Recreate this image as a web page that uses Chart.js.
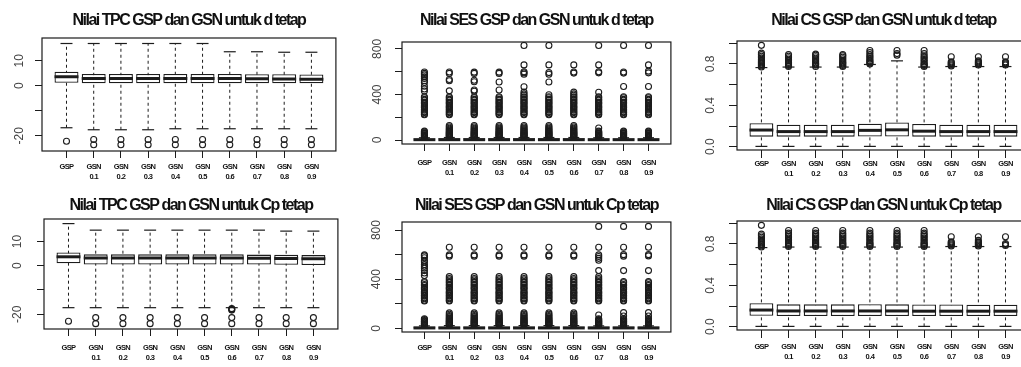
<!DOCTYPE html>
<html>
<head>
<meta charset="utf-8">
<script src="https://cdn.jsdelivr.net/npm/chart.js@4.4.1/dist/chart.umd.min.js"></script>
<style>
html, body { margin: 0; padding: 0; background: #fff; }
body { width: 1021px; height: 367px; overflow: hidden; position: relative; }
.panel { position: absolute; }
</style>
</head>
<body>
<script>
// category tick labels (two lines under each box)
var xTickLabels = [['GSP'], ['GSN', '0.1'], ['GSN', '0.2'], ['GSN', '0.3'], ['GSN', '0.4'],
                   ['GSN', '0.5'], ['GSN', '0.6'], ['GSN', '0.7'], ['GSN', '0.8'], ['GSN', '0.9']];

// y ticks
var tpcTicks = [-20, -10, 0, 10];
var tpcTickLabels = ['-20', '', '0', '10'];
var sesTicks = [0, 200, 400, 600, 800];
var sesTickLabels = ['0', '', '400', '', '800'];
var csTicks = [0, 0.2, 0.4, 0.6, 0.8, 1.0];
var csTickLabels = ['0.0', '', '0.4', '', '0.8', ''];

// TPC, d tetap
var tpcD_q1  = [1.2, 1.0, 1.0, 1.0, 1.0, 1.0, 1.0, 1.0, 1.0, 1.0];
var tpcD_med = [3.6, 2.9, 2.9, 2.9, 2.9, 2.9, 2.9, 2.8, 2.7, 2.6];
var tpcD_q3  = [5.6, 4.7, 4.7, 4.7, 4.7, 4.7, 4.7, 4.6, 4.6, 4.5];
var tpcD_lo  = [-16.8, -17.6, -17.6, -17.6, -17.2, -17.2, -17.2, -17.2, -17.2, -17.2];
var tpcD_hi  = [16.9, 16.9, 16.9, 16.9, 16.9, 16.9, 13.6, 13.6, 13.4, 13.4];
var tpcD_out = [[-22.2], [-21.5, -23.6], [-21.5, -23.6], [-21.5, -23.6], [-21.5, -23.6],
                [-21.5, -23.6], [-21.5, -23.6], [-21.5, -23.6], [-21.5, -23.6], [-21.5, -23.6]];

// TPC, Cp tetap
var tpcC_q1  = [1.0, 0.5, 0.5, 0.5, 0.5, 0.5, 0.5, 0.5, 0.4, 0.3];
var tpcC_med = [3.7, 3.2, 3.2, 3.2, 3.2, 3.2, 3.2, 3.1, 3.0, 2.9];
var tpcC_q3  = [5.5, 4.7, 4.7, 4.7, 4.7, 4.7, 4.7, 4.6, 4.5, 4.4];
var tpcC_lo  = [-17.3, -17.3, -17.3, -17.3, -17.3, -17.3, -17.3, -17.3, -17.3, -17.3];
var tpcC_hi  = [17.4, 14.7, 14.7, 14.7, 14.7, 14.7, 14.7, 14.7, 14.3, 14.3];
var tpcC_out = [[-22.9], [-21.4, -23.9], [-21.4, -23.9], [-21.4, -23.9], [-21.4, -23.9],
                [-21.4, -23.9], [-21.4, -23.9, -17.7, -18.0, -18.3], [-21.4, -23.9], [-21.4, -23.9], [-21.4, -23.9]];

// SES outlier groups (shared by several boxes)
var sesLowA = [24, 30, 35, 41, 46, 53, 58, 64, 71, 78];
var sesLowB = [86, 95, 104, 114, 126];
var sesMidA = [222, 229, 241, 248, 262, 270, 284, 291, 300, 317, 326, 334, 349, 357, 371, 380];
var sesMidB = [393, 405, 421];

// SES, d tetap
var sesD_q1  = [0, 0, 0, 0, 0, 0, 0, 0, 0, 0];
var sesD_med = [3, 3, 3, 3, 3, 3, 3, 3, 3, 3];
var sesD_q3  = [14, 15, 15, 15, 15, 15, 15, 14, 14, 14];
var sesD_lo  = [0, 0, 0, 0, 0, 0, 0, 0, 0, 0];
var sesD_hi  = [20, 22, 22, 22, 22, 22, 22, 20, 20, 20];
var sesD_out = [
  sesLowA.concat(sesMidA, [430, 448, 472, 505, 520, 540, 555, 572, 585, 598]),
  sesLowA.concat(sesLowB, sesMidA, [432, 520, 532, 585, 598]),
  sesLowA.concat(sesLowB, sesMidA, [428, 440, 512, 525, 585, 596]),
  sesLowA.concat(sesLowB, sesMidA, [440, 510, 585, 596]),
  sesLowA.concat(sesLowB, sesMidA, sesMidB, [468, 578, 590, 600, 660, 830]),
  sesLowA.concat(sesLowB, sesMidA, [398, 510, 578, 592, 660, 830]),
  sesLowA.concat(sesLowB, sesMidA, sesMidB, [588, 598, 660]),
  sesLowA.concat(sesMidA, [105, 420, 590, 600, 660, 830]),
  sesLowA.concat(sesMidA, [470, 588, 598, 830]),
  sesLowA.concat(sesMidA, [470, 590, 605, 660, 830])
];

// SES, Cp tetap
var sesC_q1  = [0, 0, 0, 0, 0, 0, 0, 0, 0, 0];
var sesC_med = [3, 3, 3, 3, 3, 3, 3, 3, 3, 3];
var sesC_q3  = [14, 15, 15, 15, 15, 15, 15, 14, 14, 14];
var sesC_lo  = [0, 0, 0, 0, 0, 0, 0, 0, 0, 0];
var sesC_hi  = [20, 22, 22, 22, 22, 22, 22, 20, 20, 20];
var sesC_out = [
  sesLowA.concat(sesMidA, [430, 450, 470, 490, 505, 520, 540, 555, 575, 590, 598]),
  sesLowA.concat(sesLowB, sesMidA, sesMidB, [588, 598, 660]),
  sesLowA.concat(sesLowB, sesMidA, sesMidB, [588, 598, 660]),
  sesLowA.concat(sesLowB, sesMidA, sesMidB, [588, 598, 660]),
  sesLowA.concat(sesLowB, sesMidA, sesMidB, [588, 598, 660]),
  sesLowA.concat(sesLowB, sesMidA, sesMidB, [588, 598, 660]),
  sesLowA.concat(sesLowB, sesMidA, sesMidB, [588, 598, 660]),
  sesLowA.concat(sesMidA, sesMidB, [108, 470, 555, 570, 585, 598, 660, 830]),
  sesLowA.concat(sesMidA, [100, 128, 470, 588, 600, 660, 830]),
  sesLowA.concat(sesMidA, [100, 128, 470, 590, 600, 660, 830])
];

// CS, d tetap
var csD_q1  = [0.097, 0.097, 0.097, 0.097, 0.098, 0.098, 0.097, 0.097, 0.097, 0.097];
var csD_med = [0.161, 0.146, 0.146, 0.146, 0.158, 0.163, 0.150, 0.146, 0.146, 0.146];
var csD_q3  = [0.226, 0.212, 0.212, 0.212, 0.222, 0.235, 0.220, 0.212, 0.212, 0.212];
var csD_lo  = [0.003, 0.003, 0.003, 0.003, 0.003, 0.003, 0.003, 0.003, 0.003, 0.003];
var csD_hi  = [0.765, 0.77, 0.77, 0.77, 0.795, 0.83, 0.77, 0.775, 0.775, 0.775];
var csD_out = [
  [0.77, 0.78, 0.79, 0.80, 0.81, 0.82, 0.83, 0.845, 0.86, 0.875, 0.89, 0.905, 0.98],
  [0.775, 0.785, 0.795, 0.805, 0.815, 0.83, 0.845, 0.86, 0.875, 0.89],
  [0.775, 0.79, 0.80, 0.81, 0.825, 0.84, 0.855, 0.87, 0.885, 0.895],
  [0.775, 0.785, 0.80, 0.81, 0.82, 0.835, 0.85, 0.865, 0.88, 0.89],
  [0.80, 0.81, 0.82, 0.83, 0.845, 0.86, 0.875, 0.89, 0.91, 0.93],
  [0.885, 0.90, 0.93],
  [0.775, 0.785, 0.795, 0.805, 0.82, 0.835, 0.85, 0.865, 0.88, 0.90, 0.93],
  [0.78, 0.79, 0.80, 0.81, 0.82, 0.87],
  [0.79, 0.80, 0.81, 0.82, 0.83, 0.87],
  [0.79, 0.80, 0.81, 0.82, 0.87]
];

// CS, Cp tetap
var csC_q1  = [0.106, 0.103, 0.103, 0.103, 0.103, 0.103, 0.103, 0.103, 0.103, 0.103];
var csC_med = [0.161, 0.152, 0.152, 0.152, 0.152, 0.152, 0.150, 0.150, 0.150, 0.150];
var csC_q3  = [0.226, 0.216, 0.216, 0.216, 0.218, 0.216, 0.214, 0.214, 0.212, 0.212];
var csC_lo  = [0.003, 0.003, 0.003, 0.003, 0.003, 0.003, 0.003, 0.003, 0.003, 0.003];
var csC_hi  = [0.765, 0.77, 0.77, 0.77, 0.77, 0.77, 0.77, 0.775, 0.775, 0.775];
var csC_out = [
  [0.77, 0.78, 0.79, 0.80, 0.81, 0.82, 0.835, 0.85, 0.865, 0.88, 0.895, 0.98],
  [0.775, 0.785, 0.795, 0.805, 0.815, 0.83, 0.845, 0.86, 0.875, 0.89, 0.905, 0.93],
  [0.775, 0.785, 0.795, 0.805, 0.815, 0.83, 0.845, 0.86, 0.875, 0.89, 0.905, 0.93],
  [0.775, 0.785, 0.795, 0.805, 0.815, 0.83, 0.845, 0.86, 0.875, 0.89, 0.905, 0.93],
  [0.775, 0.785, 0.795, 0.805, 0.815, 0.83, 0.845, 0.86, 0.875, 0.89, 0.905, 0.93],
  [0.775, 0.785, 0.795, 0.805, 0.815, 0.83, 0.845, 0.86, 0.875, 0.89, 0.905, 0.93],
  [0.775, 0.785, 0.795, 0.805, 0.815, 0.83, 0.845, 0.86, 0.875, 0.89, 0.905, 0.93],
  [0.78, 0.79, 0.80, 0.81, 0.82, 0.87],
  [0.78, 0.79, 0.80, 0.81, 0.82, 0.835, 0.87],
  [0.785, 0.795, 0.805, 0.87]
];

var INK = '#1c1c1c';

var panels = [
  {title: 'Nilai TPC GSP dan GSN untuk d tetap', q1: tpcD_q1, med: tpcD_med, q3: tpcD_q3, lo: tpcD_lo, hi: tpcD_hi, out: tpcD_out,
   ticks: tpcTicks, tickLabels: tpcTickLabels, min: -26.1, max: 19.1,
   x0: 42, x1: 339, y0: 38, y1: 151, top: 0, titleY: 21, yOff: 22, tl: 7, xPad: 4},
  {title: 'Nilai SES GSP dan GSN untuk d tetap', q1: sesD_q1, med: sesD_med, q3: sesD_q3, lo: sesD_lo, hi: sesD_hi, out: sesD_out,
   ticks: sesTicks, tickLabels: sesTickLabels, min: -35, max: 861,
   x0: 402, x1: 674, y0: 42, y1: 144, top: 0, titleY: 21, yOff: 24, tl: 7, xPad: 7},
  {title: 'Nilai CS GSP dan GSN untuk d tetap', q1: csD_q1, med: csD_med, q3: csD_q3, lo: csD_lo, hi: csD_hi, out: csD_out,
   ticks: csTicks, tickLabels: csTickLabels, min: -0.032, max: 1.022,
   x0: 737, x1: 1033, y0: 41, y1: 150, top: 0, titleY: 21, yOff: 26, tl: 8, xPad: 1},
  {title: 'Nilai TPC GSP dan GSN untuk Cp tetap', q1: tpcC_q1, med: tpcC_med, q3: tpcC_q3, lo: tpcC_lo, hi: tpcC_hi, out: tpcC_out,
   ticks: tpcTicks, tickLabels: tpcTickLabels, min: -26.1, max: 19.3,
   x0: 44, x1: 341, y0: 219, y1: 329, top: 184, titleY: 205.5, yOff: 26, tl: 7, xPad: 7},
  {title: 'Nilai SES GSP dan GSN untuk Cp tetap', q1: sesC_q1, med: sesC_med, q3: sesC_q3, lo: sesC_lo, hi: sesC_hi, out: sesC_out,
   ticks: sesTicks, tickLabels: sesTickLabels, min: -30, max: 866,
   x0: 402, x1: 674, y0: 222, y1: 332, top: 184, titleY: 205.5, yOff: 25, tl: 7, xPad: 4},
  {title: 'Nilai CS GSP dan GSN untuk Cp tetap', q1: csC_q1, med: csC_med, q3: csC_q3, lo: csC_lo, hi: csC_hi, out: csC_out,
   ticks: csTicks, tickLabels: csTickLabels, min: -0.032, max: 1.022,
   x0: 737, x1: 1033, y0: 221, y1: 330, top: 184, titleY: 205.5, yOff: 26, tl: 8, xPad: 4}
];

// frame round the plotting region, like R's box()
var framePlugin = {
  id: 'frame',
  afterDatasetsDraw: function(chart) {
    var a = chart.chartArea, ctx = chart.ctx;
    ctx.save();
    ctx.strokeStyle = INK;
    ctx.lineWidth = 1.2;
    ctx.strokeRect(a.left, a.top, a.right - a.left, a.bottom - a.top);
    ctx.restore();
  }
};

// the original uses a tight condensed face for titles and box names: pull the letters together
function squeeze(chart, obj, name, spacing) {
  if (!obj || obj['_sq_' + name]) return;
  var fn = obj[name];
  obj[name] = function() {
    chart.ctx.save();
    chart.ctx.letterSpacing = spacing;
    fn.apply(obj, arguments);
    chart.ctx.restore();
  };
  obj['_sq_' + name] = true;
}
var squeezePlugin = {
  id: 'squeeze',
  beforeDraw: function(chart) {
    squeeze(chart, chart.titleBlock, 'draw', '-1.5px');
    squeeze(chart, chart.scales.x, 'drawLabels', '-0.6px');
  }
};

var mctx = document.createElement('canvas').getContext('2d');
mctx.font = '12px "Liberation Sans"';

function unitPx(c) {
  var s = c.chart.scales.x;
  return Math.abs(s.getPixelForValue(2) - s.getPixelForValue(1));
}

function drawPanel(p) {
  var AXW = 40, AXH = 36, PADR = 2, TFS = 16, TLH = 1.2;
  var W = p.x1 - p.x0 + AXW + PADR;
  var H = p.y1 - p.top + AXH;

  var div = document.createElement('div');
  div.className = 'panel';
  div.style.left = (p.x0 - AXW) + 'px';
  div.style.top = p.top + 'px';
  var cv = document.createElement('canvas');
  cv.width = W; cv.height = H;
  cv.style.width = W + 'px'; cv.style.height = H + 'px';
  div.appendChild(cv);
  document.body.appendChild(div);

  var boxes = [], meds = [], caps = [], whisk = [], outs = [];
  for (var i = 0; i < p.q1.length; i++) {
    var x = i + 1;
    boxes.push({x: x, y: [p.q1[i], p.q3[i]]});
    meds.push({x: x, y: p.med[i]});
    caps.push({x: x, y: p.lo[i]}, {x: x, y: p.hi[i]});
    whisk.push({x: x, y: p.lo[i]}, {x: x, y: p.hi[i]}, {x: x, y: null});
    p.out[i].forEach(function(v) { outs.push({x: x, y: v}); });
  }

  var widest = Math.max.apply(null, p.tickLabels.map(function(t) { return mctx.measureText(t).width; }));
  var yPad = p.yOff - p.tl - widest / 2;
  var tTop = p.titleY - p.top - TFS * TLH / 2;
  var tBot = (p.y0 - p.top) - tTop - TFS * TLH;

  new Chart(cv, {
    type: 'bar',
    data: {
      datasets: [
        {type: 'line', data: meds, showLine: false, pointStyle: 'line',
         pointRadius: function(c) { return unitPx(c) * 0.44; },
         pointBorderWidth: 3, pointBorderColor: INK, pointBackgroundColor: INK},
        {type: 'line', data: outs, showLine: false, pointStyle: 'circle', pointRadius: 3,
         pointBorderWidth: 1.1, pointBorderColor: INK, pointBackgroundColor: 'rgba(255,255,255,0)'},
        {type: 'line', data: caps, showLine: false, pointStyle: 'line',
         pointRadius: function(c) { return unitPx(c) * 0.22; },
         pointBorderWidth: 1.2, pointBorderColor: INK},
        {type: 'bar', data: boxes, backgroundColor: '#ffffff', borderColor: INK, borderWidth: 1.3,
         borderSkipped: false, barPercentage: 0.88, categoryPercentage: 1},
        {type: 'line', data: whisk, borderColor: INK, borderWidth: 1, borderDash: [3, 3],
         pointRadius: 0, spanGaps: false}
      ]
    },
    options: {
      responsive: false,
      animation: false,
      events: [],
      layout: {padding: {left: 0, right: PADR, top: 0, bottom: 0}},
      plugins: {
        legend: {display: false},
        tooltip: {enabled: false},
        title: {
          display: true, text: p.title, fullSize: false, color: '#111',
          font: {family: "'Liberation Sans Narrow', 'Liberation Sans', sans-serif", weight: 'bold', size: TFS, lineHeight: TLH},
          padding: {top: tTop, bottom: tBot}
        }
      },
      scales: {
        x: {
          type: 'linear', min: 0.1, max: 10.9, offset: false,
          afterBuildTicks: function(ax) { ax.ticks = xTickLabels.map(function(l, i) { return {value: i + 1}; }); },
          afterFit: function(ax) { ax.height = AXH; },
          grid: {drawOnChartArea: false, drawTicks: true, tickLength: p.tl, color: INK, lineWidth: 1, offset: false},
          border: {display: false},
          ticks: {
            autoSkip: false, maxRotation: 0, minRotation: 0, padding: p.xPad, color: '#111',
            font: {family: "'Liberation Sans Narrow', 'Liberation Sans', sans-serif", weight: 'bold', size: 7.5, lineHeight: 1.35},
            callback: function(v, i) { return xTickLabels[i]; }
          }
        },
        y: {
          type: 'linear', min: p.min, max: p.max,
          afterBuildTicks: function(ax) { ax.ticks = p.ticks.map(function(v) { return {value: v}; }); },
          afterFit: function(ax) { ax.width = AXW; },
          grid: {drawOnChartArea: false, drawTicks: true, tickLength: p.tl, color: INK, lineWidth: 1},
          border: {display: false},
          ticks: {
            autoSkip: false, minRotation: 90, maxRotation: 90, crossAlign: 'center', padding: yPad, color: '#444',
            font: {family: "'Liberation Sans', Arial, sans-serif", size: 12},
            callback: function(v, i) { return p.tickLabels[i]; }
          }
        }
      }
    },
    plugins: [framePlugin, squeezePlugin]
  });
}

panels.forEach(drawPanel);
</script>
</body>
</html>
